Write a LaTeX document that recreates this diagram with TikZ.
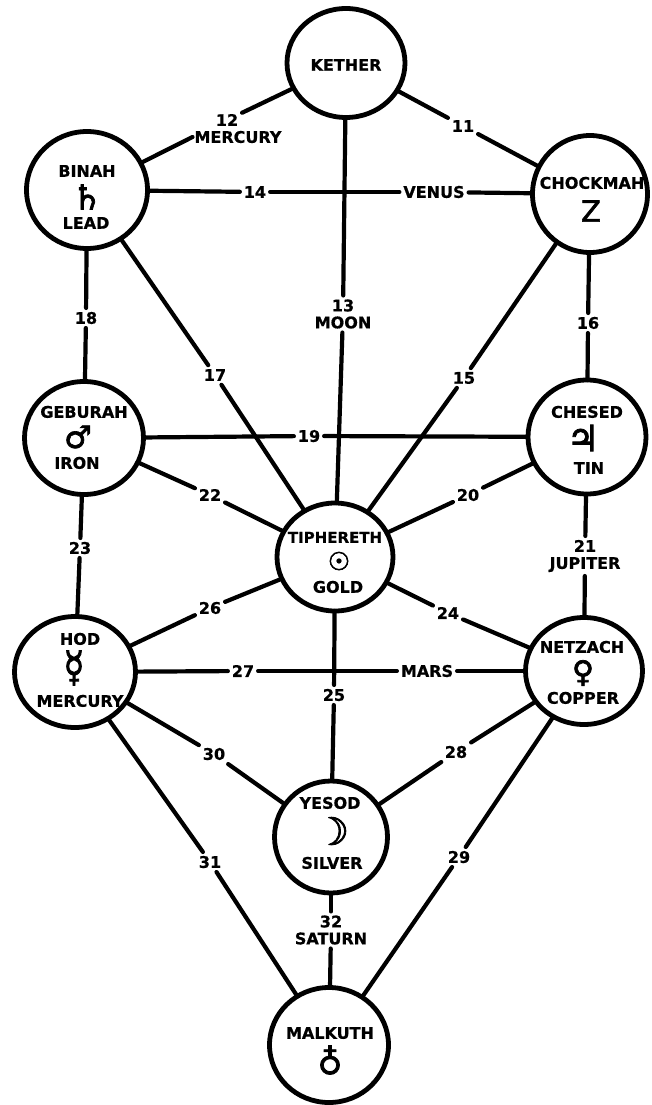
\documentclass[tikz,border=0pt]{standalone}
\usepackage{fontspec}
\setmainfont{DejaVu Sans}
\newfontfamily\lettering{DejaVu Sans Bold}[FakeBold=0.7]
\newfontfamily\symf{DejaVu Sans}[FakeBold=2.2]
\usetikzlibrary{shapes.geometric}
\begin{document}
\begin{tikzpicture}[x=1pt,y=-1pt,
  sephira/.style 2 args={ellipse, draw, line width=4.8pt, inner sep=0pt, outer sep=0pt,
    minimum width=#1, minimum height=#2},
  conn/.style={line width=4.2pt, line cap=round},
  lbl/.style={font=\fontsize{16}{17}\lettering, inner sep=4pt, outer sep=0pt, align=center},
  nm/.style={font=\fontsize{16}{17}\lettering, inner sep=0pt, text height=11.5pt, text depth=0pt},
  sym/.style={font=\fontsize{#1}{#1}\symf, inner sep=0pt}]
\useasboundingbox (0,0) rectangle (651,1105);

% --- sephiroth ---
\node[sephira={118}{109}] (kether)    at (346,63)   {};
\node[sephira={121}{117}] (binah)     at (87,190)   {};
\node[sephira={115}{117}] (chockmah)  at (590,194)  {};
\node[sephira={119}{113}] (geburah)   at (84,438)   {};
\node[sephira={118}{114}] (chesed)    at (587,437)  {};
\node[sephira={116}{108}] (tiphereth) at (335,557)  {};
\node[sephira={121}{111}] (hod)       at (75,672)   {};
\node[sephira={117}{107}] (netzach)   at (584,671)  {};
\node[sephira={113}{112}] (yesod)     at (331,837)  {};
\node[sephira={119}{115}] (malkuth)   at (329,1045) {};

% --- texts inside ---
\node[nm] (kether-n)    at (346,65)  {KETHER};
\node[nm] (binah-n)     at (87,171)  {BINAH};
\node[sym=34] (binah-s) at (87,197)  {♄};
\node[nm] (binah-m)     at (86,223)  {LEAD};
\node[nm] (chockmah-n)  at (592,183) {CHOCKMAH};
\node[sym=29] (chockmah-s) at (591,211) {Z};
\node[nm] (geburah-n)   at (84,412)  {GEBURAH};
\node[sym=31] (geburah-s) at (78,437) {♂};
\node[nm] (geburah-m)   at (77,463)  {IRON};
\node[nm] (chesed-n)    at (587,412) {CHESED};
\node[sym=36] (chesed-s) at (583,438) {♃};
\node[nm] (chesed-m)    at (589,468) {TIN};
\node[nm,font=\fontsize{15}{17}\lettering] (tiphereth-n) at (335,537) {TIPHERETH};
\node[sym=25] (tiphereth-s) at (339,561) {☉};
\node[nm] (tiphereth-m) at (338,587) {GOLD};
\node[nm] (hod-n)       at (80,639)  {HOD};
\node[sym=32] (hod-s)   at (74,668)  {\scalebox{1.05}[1.3]{☿}};
\node[nm] (hod-m)       at (80,701)  {MERCURY};
\node[nm] (netzach-n)   at (582,647) {NETZACH};
\node[sym=30] (netzach-s) at (583,673) {♀};
\node[nm] (netzach-m)   at (583,698) {COPPER};
\node[nm] (yesod-n)     at (330,803) {YESOD};
\node[sym=38] (yesod-s) at (332,831) {☽};
\node[nm] (yesod-m)     at (332,863) {SILVER};
\node[nm] (malkuth-n)   at (330,1033) {MALKUTH};
\node[sym=34] (malkuth-s) at (330,1060) {♁};

% --- path labels ---
\node[lbl] (l11) at (463,126) {11};
\node[lbl] (l12) at (227,120) {12};
\node[lbl,inner sep=2pt] (l12m) at (238,137) {MERCURY};
\node[lbl] (l13) at (343,314) {13\\MOON};
\node[lbl] (l14) at (255,192) {14};
\node[lbl] (lvenus) at (434,192) {VENUS};
\node[lbl] (l15) at (464,378) {15};
\node[lbl] (l16) at (588,323) {16};
\node[lbl] (l17) at (215,375) {17};
\node[lbl] (l18) at (86,318) {18};
\node[lbl] (l19) at (309,436) {19};
\node[lbl] (l20) at (468,495) {20};
\node[lbl] (l21) at (585,556) {21\\JUPITER};
\node[lbl] (l22) at (210,495) {22};
\node[lbl] (l23) at (80,548) {23};
\node[lbl] (l24) at (448,613) {24};
\node[lbl] (l25) at (334,695) {25};
\node[lbl] (l26) at (210,608) {26};
\node[lbl] (l27) at (243,671) {27};
\node[lbl] (lmars) at (427,671) {MARS};
\node[lbl] (l28) at (456,752) {28};
\node[lbl] (l29) at (459,857) {29};
\node[lbl] (l30) at (214,754) {30};
\node[lbl] (l31) at (210,862) {31};
\node[lbl] (l32) at (331,930) {32\\SATURN};

% --- connectors ---
\draw[conn] (kether) -- (l11);   \draw[conn] (l11) -- (chockmah);
\draw[conn] (kether) -- (l12);   \draw[conn] (l12m.west) -- (binah);
\draw[conn] (kether) -- (l13);   \draw[conn] (l13) -- (tiphereth);
\draw[conn] (binah) -- (l14);    \draw[conn] (l14) -- (lvenus); \draw[conn] (lvenus) -- (chockmah);
\draw[conn] (chockmah) -- (l15); \draw[conn] (l15) -- (tiphereth);
\draw[conn] (chockmah) -- (l16); \draw[conn] (l16) -- (chesed);
\draw[conn] (binah) -- (l17);    \draw[conn] (l17) -- (tiphereth);
\draw[conn] (binah) -- (l18);    \draw[conn] (l18) -- (geburah);
\draw[conn] (geburah) -- (l19);  \draw[conn] (l19) -- (chesed);
\draw[conn] (chesed) -- (l20);   \draw[conn] (l20) -- (tiphereth);
\draw[conn] (chesed) -- (l21);   \draw[conn] (l21) -- (netzach);
\draw[conn] (geburah) -- (l22);  \draw[conn] (l22) -- (tiphereth);
\draw[conn] (geburah) -- (l23);  \draw[conn] (l23) -- (hod);
\draw[conn] (tiphereth) -- (l24); \draw[conn] (l24) -- (netzach);
\draw[conn] (tiphereth) -- (l25); \draw[conn] (l25) -- (yesod);
\draw[conn] (tiphereth) -- (l26); \draw[conn] (l26) -- (hod);
\draw[conn] (hod) -- (l27);      \draw[conn] (l27) -- (lmars); \draw[conn] (lmars) -- (netzach);
\draw[conn] (netzach) -- (l28);  \draw[conn] (l28) -- (yesod);
\draw[conn] (netzach) -- (l29);  \draw[conn] (l29) -- (malkuth);
\draw[conn] (hod) -- (l30);      \draw[conn] (l30) -- (yesod);
\draw[conn] (hod) -- (l31);      \draw[conn] (l31) -- (malkuth);
\draw[conn] (yesod) -- (l32);    \draw[conn] (l32) -- (malkuth);
\end{tikzpicture}
\end{document}
